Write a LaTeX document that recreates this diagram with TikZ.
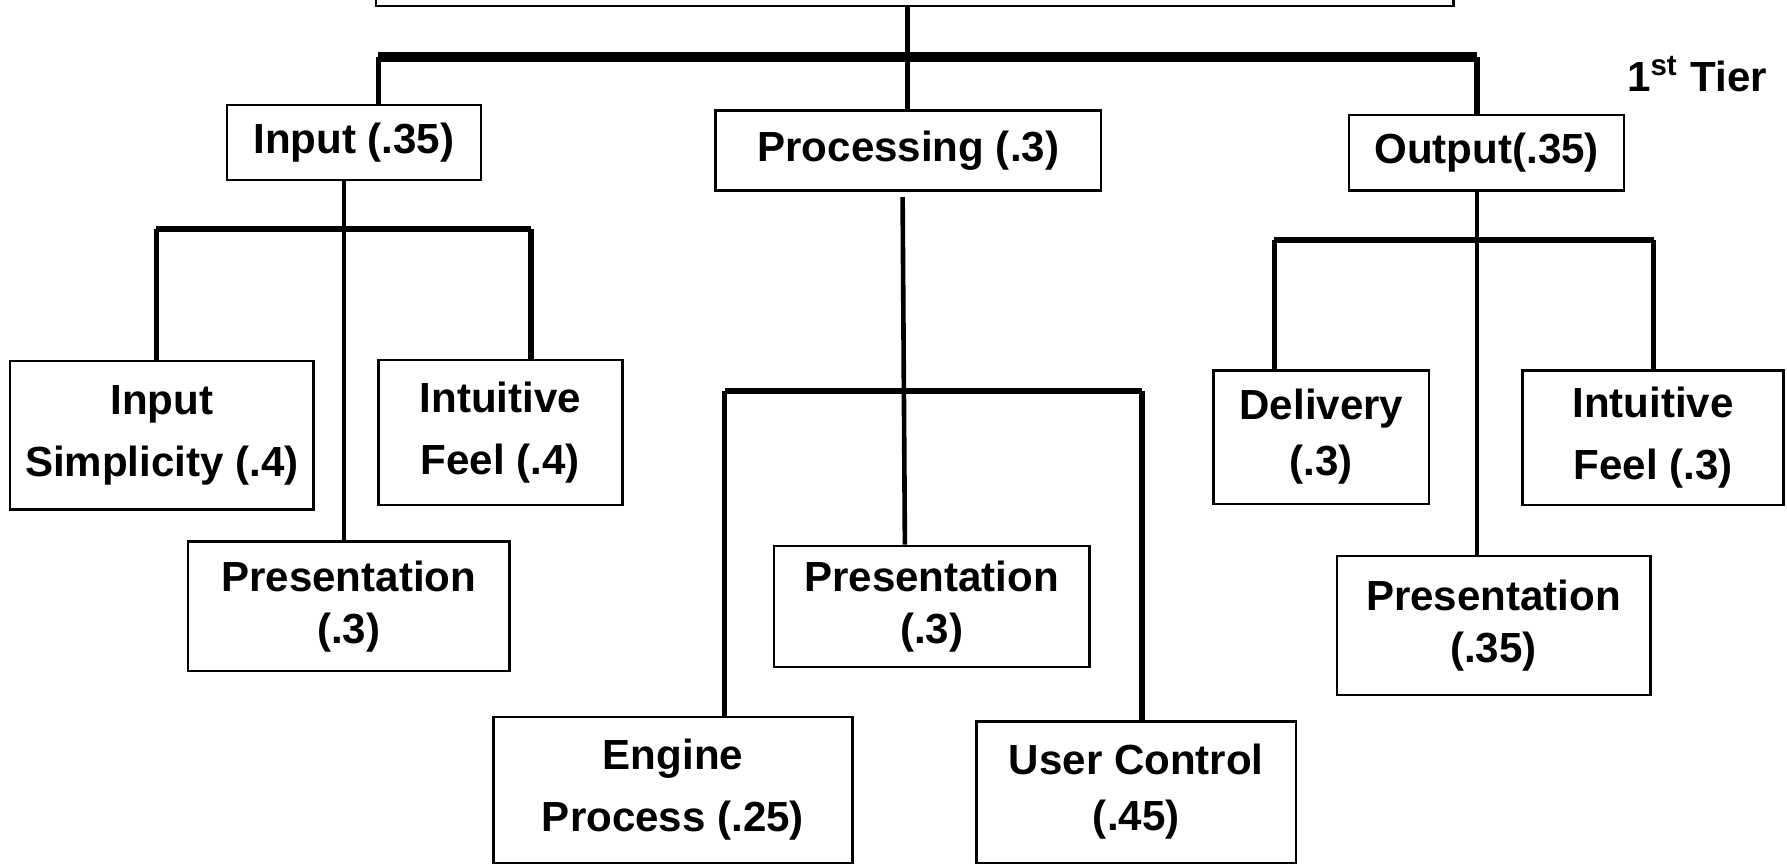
\documentclass[tikz,border=0pt]{standalone}
\usepackage{fontspec}
\setmainfont{Liberation Sans}
\begin{document}
\begin{tikzpicture}[x=0.01cm,y=-0.01cm,
  box/.style={draw, line width=0.6pt, inner sep=0pt, align=center,
    font=\fontsize{10.5pt}{14pt}\selectfont\bfseries},
  loose/.style={font=\fontsize{10.5pt}{15.5pt}\selectfont\bfseries},
  tight/.style={font=\fontsize{10.5pt}{13pt}\selectfont\bfseries},
  topbar/.style={line width=2.3pt},
  bar/.style={line width=1.5pt},
  drop/.style={line width=1.3pt},
  stem/.style={line width=1.15pt}]
\useasboundingbox (0,0) rectangle (1568,758);
% goal box, cut off at the top
\node[box, minimum width=9.45cm, minimum height=0.65cm] (goal) at (802.5,-27.5) {};
% 1st tier
\node[box, minimum width=2.23cm, minimum height=0.66cm] (in) at (310.5,125) {Input (.35)};
\node[box, minimum width=3.38cm, minimum height=0.70cm] (proc) at (797,132) {Processing (.3)};
\node[box, minimum width=2.41cm, minimum height=0.66cm] (out) at (1304.5,134) {Output(.35)};
\node[anchor=base west, inner sep=0pt, font=\fontsize{10.5pt}{14pt}\selectfont\bfseries] (tier) at (1427,80.5) {1\textsuperscript{st} Tier};
% 2nd tier, input
\node[box, loose, minimum width=2.66cm, minimum height=1.30cm] (insimp) at (142,382) {Input\\Simplicity (.4)};
\node[box, loose, minimum width=2.14cm, minimum height=1.27cm] (infeel) at (439,379.5) {Intuitive\\Feel (.4)};
\node[box, tight, minimum width=2.82cm, minimum height=1.14cm] (inpres) at (306,532) {Presentation\\(.3)};
% 2nd tier, processing
\node[box, tight, minimum width=2.77cm, minimum height=1.06cm] (prpres) at (817.5,532) {Presentation\\(.3)};
\node[box, loose, minimum width=3.15cm, minimum height=1.28cm] (engine) at (590.5,693) {Engine\\Process (.25)};
\node[box, minimum width=2.80cm, minimum height=1.24cm] (user) at (997,695) {User Control\\(.45)};
% 2nd tier, output
\node[box, minimum width=1.89cm, minimum height=1.17cm] (deliv) at (1159.5,383.5) {Delivery\\(.3)};
\node[box, loose, minimum width=2.29cm, minimum height=1.18cm] (outfeel) at (1450.5,384) {Intuitive\\Feel (.3)};
\node[box, tight, minimum width=2.75cm, minimum height=1.22cm] (outpres) at (1310.5,549) {Presentation\\(.35)};

% top bar
\coordinate (t1) at (796,50);
\coordinate (b1a) at (332,50);
\coordinate (b1c) at (1296,50);
\draw[drop] (t1 |- goal.south) -- (t1);
\draw[topbar] (b1a) -- (b1c);
\draw[drop] (b1a) -- (b1a |- in.north);
\draw[drop] (t1) -- (t1 |- proc.north);
\draw[drop] (b1c) -- (b1c |- out.north);

% input branch
\coordinate (s2) at (302,201);
\coordinate (b2a) at (137,201);
\coordinate (b2b) at (466,201);
\draw[stem] (s2 |- in.south) -- (s2 |- inpres.north);
\draw[bar] (b2a) -- (b2b);
\draw[drop] (b2a) -- (b2a |- insimp.north);
\draw[drop] (b2b) -- (b2b |- infeel.north);

% processing branch
\coordinate (s3) at (794,343);
\coordinate (b3a) at (636,343);
\coordinate (b3b) at (1002,343);
\draw[stem] (792,173) -- (s3 |- prpres.north);
\draw[bar] (b3a) -- (b3b);
\draw[drop] (b3a) -- (b3a |- engine.north);
\draw[drop] (b3b) -- (b3b |- user.north);

% output branch
\coordinate (s4) at (1296,211);
\coordinate (b4a) at (1118,211);
\coordinate (b4b) at (1451,211);
\draw[stem] (s4 |- out.south) -- (s4 |- outpres.north);
\draw[bar] (b4a) -- (b4b);
\draw[drop] (b4a) -- (b4a |- deliv.north);
\draw[drop] (b4b) -- (b4b |- outfeel.north);
\end{tikzpicture}
\end{document}
